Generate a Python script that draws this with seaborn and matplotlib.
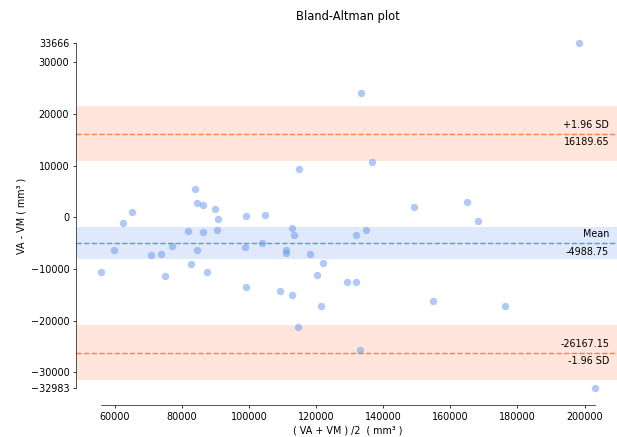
import matplotlib
matplotlib.use("Agg")
import matplotlib.pyplot as plt
import seaborn as sns
import pandas as pd

# data
avg_vol = [55740, 59700, 62500, 64980, 70640, 73610, 74810, 76980, 81660, 82550,
           83830, 84550, 84430, 86130, 86220, 87320, 89790, 90680, 90390, 98850,
           99140, 99140, 103790, 104690, 109060, 112640, 113240, 111060, 111060, 112640,
           114720, 114520, 118090, 121960, 120090, 121370, 129170, 132000, 133280, 136560,
           149070, 164860, 168260, 132000, 134890, 154940, 176300, 133190, 198230, 203200]
diff_vol = [-10520, -6260, -1030, 1100, -7300, -7030, -11430, -5620, -2650, -9100,
            5420, 2770, -6390, 2460, -2910, -10600, 1690, -330, -2520, -5810,
            330, -13500, -4900, 390, -14330, -2130, -3430, -6390, -6920, -15050,
            9430, -21170, -7030, -8780, -11180, -17180, -12490, -12590, 24080, 10710,
            2000, 3040, -640, -3490, -2460, -16210, -17100, -25760, 33666, -32983]

mean_diff = -4988.75
upper_loa = 16189.65
lower_loa = -26167.15
# confidence bands (read from the shading)
mean_band = (-8060, -1920)
upper_band = (10870, 21510)
lower_band = (-31500, -20830)

x_ticks = [60000, 80000, 100000, 120000, 140000, 160000, 180000, 200000]
y_ticks = [-30000, -20000, -10000, 0, 10000, 20000, 30000]

df = pd.DataFrame({"avg": avg_vol, "diff": diff_vol})

sns.set_style("ticks")
plt.rcParams["text.color"] = "black"
plt.rcParams["axes.labelcolor"] = "black"
plt.rcParams["xtick.color"] = "black"
plt.rcParams["ytick.color"] = "black"

dpi = 69
fig = plt.figure(figsize=(617 / dpi, 437 / dpi), dpi=dpi)
ax = fig.add_axes([76 / 617, 32 / 437, 544 / 617, 379 / 437])

sns.scatterplot(data=df, x="avg", y="diff", color="cornflowerblue", alpha=0.5,
                s=60, linewidth=0, ax=ax, zorder=3)

ax.axhspan(*upper_band, color="coral", alpha=0.2, lw=0, zorder=1)
ax.axhspan(*lower_band, color="coral", alpha=0.2, lw=0, zorder=1)
ax.axhspan(*mean_band, color="cornflowerblue", alpha=0.2, lw=0, zorder=1)
ax.axhline(upper_loa, color="coral", ls="--", lw=1.5, zorder=2)
ax.axhline(lower_loa, color="coral", ls="--", lw=1.5, zorder=2)
ax.axhline(mean_diff, color="cornflowerblue", ls="--", lw=1.5, zorder=2)

trans = ax.get_yaxis_transform()
labels = [(upper_loa, "+1.96 SD", f"{upper_loa:.2f}"),
          (mean_diff, "Mean", f"{mean_diff:.2f}"),
          (lower_loa, f"{lower_loa:.2f}", "-1.96 SD")]
for yv, above, below in labels:
    ax.annotate(above, xy=(0.98, yv), xycoords=trans, xytext=(0, 4),
                textcoords="offset points", ha="right", va="bottom")
    ax.annotate(below, xy=(0.98, yv), xycoords=trans, xytext=(0, -4),
                textcoords="offset points", ha="right", va="top")

ymin, ymax = min(diff_vol), max(diff_vol)
xmin, xmax = min(avg_vol), max(avg_vol)
ax.margins(x=0.05, y=0.05)
ax.set_xticks(x_ticks)
ax.set_yticks([ymin] + y_ticks + [ymax])
ax.set_yticklabels([str(ymin).replace("-", "\u2212")] + [str(v).replace("-", "\u2212") for v in y_ticks] + [str(ymax)])
sns.despine(ax=ax)
ax.spines["left"].set_bounds(ymin, ymax)
ax.spines["bottom"].set_bounds(xmin, xmax)

ax.set_xlabel("( VA + VM ) /2  ( mm\u00b3 )")
ax.set_ylabel("VA - VM ( mm\u00b3 )")
ax.set_title("Bland-Altman plot", fontsize=12, pad=6)

fig.savefig("out.png", dpi=dpi)
